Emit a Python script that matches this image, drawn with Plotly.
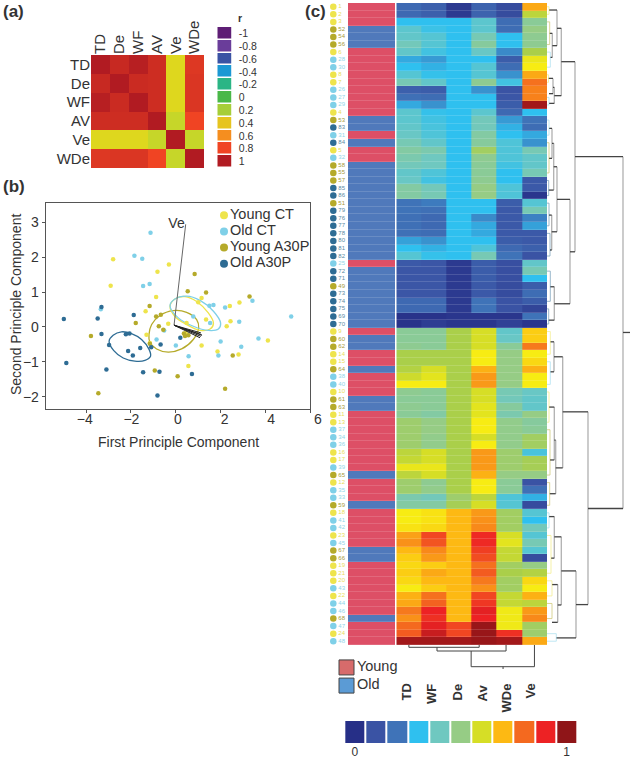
from plotly import graph_objects as go

W, H = 630, 758
FONT = "Liberation Sans"
INK = "#333333"

# Panel (a): correlation matrix
CORR_LABELS = ["TD", "De", "WF", "AV", "Ve", "WDe"]
CORR_TD = [1.0, 0.93, 0.98, 0.91, 0.32, 0.86]
CORR_DE = [0.93, 1.0, 0.92, 0.91, 0.32, 0.87]
CORR_WF = [0.98, 0.92, 1.0, 0.91, 0.32, 0.87]
CORR_AV = [0.91, 0.91, 0.91, 1.0, 0.26, 0.8]
CORR_VE = [0.32, 0.32, 0.32, 0.26, 1.0, 0.26]
CORR_WDE = [0.86, 0.87, 0.87, 0.8, 0.26, 1.0]
R_TICKS = [-1, -0.8, -0.6, -0.4, -0.2, 0, 0.2, 0.4, 0.6, 0.8, 1]
R_COLOURS = ["#5e1e75", "#6a3d9a", "#3a53a4", "#1b98d4", "#2bb585", "#4ab848",
             "#a6ce39", "#e6c41f", "#f58e1f", "#f04423", "#b11b22"]

# Panel (b): first / second principal component scores
YCT_X = [-2.79, -2.9, -0.81, -0.3, -0.87, -1.34, 1.16, 1.01, -0.33, 1.36, 0.49, -1.3,
         2.42, 2.85, 2.45, 2.28, 1.16, 1.87, 2.81, 0.57, 4.12, -1.15, 0.45]
YCT_Y = [1.94, 1.18, 1.58, 1.79, 0.86, 0.45, 0.83, 0.71, 0.09, 0.21, 0.11, -0.22,
         0.6, 0.7, 0.16, 0.02, -0.53, -0.7, -0.79, -1.12, -0.39, -0.46, -0.17]
OCT_X = [-1.12, -1.84, -1.49, -1.45, -1.16, -3.34, 0.79, 1.51, 1.69, 1.54, 2.21,
         2.84, 3.43, 5.16, 3.7, 2.93, 2.01, 1.91, 0.58, 0.01, -0.85, -0.51]
OCT_Y = [2.7, 2.04, 1.95, 1.17, 1.23, 0.51, 0.3, 0.61, 0.63, 0.11, 0.56,
         0.15, 0.75, 0.3, -0.33, -0.57, -0.42, -0.82, -0.84, -0.53, -0.36, -0.1]
YA_X = [0.85, 0.54, 1.36, 3.3, -1.16, -0.87, -0.66, -1.78, -0.75, -0.55, -3.78, -1.15,
        0.37, 0.42, 0.57, 2.55, -0.93, 0.09, -3.45, 2.21]
YA_Y = [1.52, 1.02, 0.99, 0.87, 0.6, 0.3, 0.35, 0.11, 0.02, -0.08, -0.26, -0.48,
        -0.19, -0.26, -0.24, -0.82, -1.25, -1.41, -1.9, -1.77]
OA_X = [-4.99, -4.88, -3.31, -3.48, -3.31, -1.87, -2.22, -2.06, -2.97, -2.12, -1.91,
        -1.58, -1.09, -0.67, 0.21, -3.09, -1.45, -0.72, 0.73, -0.81]
OA_Y = [0.23, -1.03, 0.57, 0.24, -0.2, 0.34, -0.21, -0.19, -0.52, -0.69, -0.82,
        -0.6, -0.58, -0.5, -0.31, -1.22, -1.3, -1.28, -1.35, -1.96]

# outlines of the group ellipses, read point by point
ELL_OA_X = [-2.97, -2.79, -2.42, -1.97, -1.52, -1.18, -1.12, -1.37, -1.82, -2.34, -2.76, -2.97]
ELL_OA_Y = [-0.41, -0.24, -0.14, -0.19, -0.36, -0.65, -0.84, -0.96, -0.98, -0.89, -0.68, -0.41]
ELL_YA_X = [-1.19, -1.07, -0.7, -0.1, 0.49, 0.94, 1.03, 0.79, 0.27, -0.33, -0.85, -1.15, -1.19]
ELL_YA_Y = [-0.22, 0.07, 0.33, 0.47, 0.42, 0.21, -0.03, -0.36, -0.63, -0.72, -0.63, -0.44, -0.22]
ELL_YCT_X = [-0.25, -0.03, 0.42, 0.94, 1.46, 1.69, 1.54, 1.09, 0.49, -0.03, -0.25]
ELL_YCT_Y = [0.59, 0.8, 0.87, 0.73, 0.4, 0.11, -0.06, -0.1, 0.07, 0.3, 0.59]
ELL_OCT_X = [-0.25, -0.03, 0.49, 1.09, 1.69, 2.01, 1.91, 1.46, 0.79, 0.12, -0.25]
ELL_OCT_Y = [0.61, 0.8, 0.88, 0.76, 0.45, 0.11, -0.06, -0.1, 0.02, 0.26, 0.61]

# loadings: Ve first, the other five bunch together
LOAD_X = [0.45, 1.16, 1.13, 1.13, 1.09, 1.18]
LOAD_Y = [2.94, -0.22, -0.17, -0.27, -0.31, -0.24]
GROUP_NAMES = ["Young CT", "Old CT", "Young A30P", "Old A30P"]
GROUP_COLOURS = ["#eee44c", "#7fd0e8", "#b5aa2a", "#2e6c94"]

# Panel (c): clustered heatmap, columns in display order
COLUMNS = ["TD", "WF", "De", "Av", "WDe", "Ve"]
ROW_LABELS = [1, 2, 3, 52, 54, 56, 6, 28, 30, 8, 7, 26, 27, 29, 4, 53, 83, 31, 84, 5, 32, 58,
              55, 57, 85, 86, 51, 79, 76, 77, 78, 80, 81, 82, 25, 72, 71, 49, 73, 74, 75, 69, 70, 9,
              60, 62, 14, 15, 64, 38, 40, 10, 61, 63, 11, 13, 37, 34, 36, 16, 17, 39, 65, 12, 35,
              33, 59, 18, 41, 42, 23, 45, 67, 66, 19, 21, 20, 43, 22, 44, 46, 68, 47, 24, 48]
HM_TD = [.17, .17, .3, .37, .38, .41, .38, .27, .3, .36, .42, .14, .19, .27, .37, .37, .38, .39, .42, .45, .43, .41,
         .38, .39, .45, .45, .2, .2, .19, .19, .19, .26, .3, .36, .12, .11, .11, .11, .11, .17, .17, .01, .01, .47,
         .47, .48, .55, .55, .56, .59, .65, .48, .47, .48, .47, .52, .52, .52, .52, .57, .58, .63, .57, .52, .52,
         .43, .45, .65, .65, .66, .73, .75, .7, .68, .67, .68, .67, .65, .71, .72, .78, .75, .8, .82, .98]
HM_WF = [.14, .14, .3, .32, .36, .36, .33, .25, .28, .31, .38, .13, .18, .24, .31, .33, .34, .35, .38, .43, .4, .4,
         .35, .33, .41, .42, .21, .19, .17, .17, .18, .24, .28, .31, .11, .11, .11, .11, .11, .17, .17, .01, .04, .47,
         .47, .47, .55, .55, .6, .62, .65, .47, .47, .47, .45, .5, .5, .49, .49, .6, .6, .63, .6, .48, .49,
         .41, .45, .66, .66, .67, .85, .83, .76, .74, .68, .72, .7, .68, .79, .81, .9, .88, .91, .94, .98]
HM_DE = [.03, .03, .3, .3, .3, .3, .3, .3, .3, .3, .3, .3, .3, .3, .3, .3, .3, .3, .3, .3, .3, .3,
         .3, .3, .3, .3, .3, .3, .3, .3, .3, .3, .3, .3, .03, .03, .03, .03, .03, .03, .03, .02, .02, .55,
         .55, .55, .55, .55, .55, .55, .55, .55, .55, .55, .55, .55, .55, .55, .55, .55, .55, .55, .55, .55, .55,
         .52, .54, .7, .7, .7, .7, .7, .7, .7, .7, .7, .7, .7, .7, .7, .7, .7, .85, .85, .98]
HM_AV = [.15, .15, .37, .37, .42, .46, .39, .3, .36, .36, .48, .24, .3, .3, .37, .41, .41, .45, .46, .53, .48, .47,
         .47, .48, .5, .5, .3, .3, .23, .27, .27, .3, .35, .42, .13, .13, .13, .12, .12, .2, .2, .02, .02, .6,
         .6, .6, .65, .65, .71, .74, .74, .6, .6, .62, .62, .65, .65, .6, .65, .74, .74, .74, .71, .65, .65,
         .57, .6, .74, .75, .76, .89, .89, .86, .84, .79, .82, .78, .75, .85, .87, .91, .9, .99, .99, .99]
HM_WDE = [.08, .08, .18, .18, .3, .3, .23, .13, .18, .24, .33, .1, .11, .13, .17, .25, .28, .3, .35, .35, .35, .33,
          .3, .3, .35, .35, .13, .12, .12, .12, .12, .13, .17, .2, .09, .09, .09, .08, .08, .1, .1, .02, .05, .38,
          .39, .47, .5, .5, .5, .5, .5, .42, .41, .46, .43, .49, .49, .49, .49, .52, .52, .52, .5, .47, .47,
          .35, .36, .53, .53, .53, .6, .62, .58, .58, .53, .55, .53, .53, .58, .58, .64, .64, .64, .88, .98]
HM_VE = [.72, .57, .47, .5, .48, .48, .55, .63, .65, .72, .79, .77, .77, .98, .3, .2, .18, .27, .24, .42, .38, .38,
         .42, .12, .12, .02, .36, .42, .22, .26, .12, .12, .14, .1, .38, .42, .3, .13, .18, .13, .06, .2, .02, .68,
         .68, .78, .65, .67, .71, .65, .65, .39, .38, .38, .5, .46, .47, .53, .53, .34, .54, .54, .5, .1, .19,
         .28, .08, .36, .3, .41, .36, .42, .36, .08, .5, .56, .67, .65, .71, .57, .74, .76, .53, .52, .72]
BAR_VALUES = [0, .1, .2, .3, .4, .5, .6, .7, .8, .9, 1]
BAR_TICKS = ["0", "1"]
AGE_NAMES = ["Young", "Old"]
AGE_COLOURS = ["#d76b6b", "#5b9bd5"]

# Row dendrogram merges: height, row of child 1, row of child 2, height of child 1, of child 2
ROW_TREE = [
    (76, 19.85, 66.43, 28, 41), (28, 7.27, 32.44, 14.3, 23), (14.3, 2.85, 11.77, 10, 7.3),
    (10, 0.43, 5.15, 2, 5.3), (5.3, 3.52, 6.7, 2.7, 3.3), (7.3, 10.67, 12.79, 6, 2),
    (6, 9.48, 11.5, 1.5, 2), (23, 25.5, 39.32, 10, 7.3), (10, 21.18, 29.79, 6.7, 4.7),
    (6.7, 18.08, 24.27, 5, 1.7), (5, 16.1, 20.07, 2, 2), (4.7, 27.58, 32.2, 2, 3),
    (7.3, 37.07, 41.49, 3.3, 1.7), (41, 53.63, 79.15, 15.7, 29), (15.7, 46.34, 61.05, 7, 8.7),
    (7, 44.36, 48.33, 3.3, 3.3), (8.7, 57.38, 64.47, 7.3, 2.7), (7.3, 53, 60, 2, 3),
    (29, 74.69, 83.56, 14.3, 9.3), (14.3, 70.18, 79.2, 7.3, 10.7), (7.3, 67.5, 73, 2, 4),
    (10.7, 76.5, 81.5, 5, 5),
]
ROW_LEAVES = [
    (2, 0, 1), (2.7, 2, 5), (3.3, 6, 8), (1.5, 9, 10), (2, 12, 13), (2, 15, 17), (2, 18, 22),
    (1.7, 23, 25), (2, 26, 29), (3, 30, 33), (3.3, 35, 39), (1.7, 40, 42), (3.3, 43, 46),
    (3.3, 47, 50), (2, 51, 55), (3, 56, 62), (2.7, 63, 66), (2, 67, 69), (4, 70, 75),
    (5, 76, 78), (5, 79, 81), (9.3, 83, 84),
]
ROW_STEM = (43.12, 76, 83)
# Column dendrogram merges, same layout, columns counted from TD = 0
COL_TREE = [(2.3, 0, 2.8, 0, 0), (6, 1.12, 3.87, 2.3, 0), (21.7, 2.48, 5, 6, 0)]
COL_STEM = (3.75, 21.7, 24)

HEAT_SCALE = [
    [0, "#262f87"], [.1, "#3a53a4"], [.2, "#3f73b8"], [.3, "#2fc0ef"], [.4, "#6fc8c0"],
    [.5, "#96cc85"], [.55, "#aacf4a"], [.6, "#d6de26"], [.65, "#f7ec13"], [.7, "#fdb913"],
    [.8, "#f4691f"], [.9, "#ed2224"], [1, "#8f1518"],
]
R_SCALE = [[i / 10, c] for i, c in enumerate(R_COLOURS)] + [[0.65, "#dcdc1e"]]
R_SCALE.sort(key=lambda stop: stop[0])


def dom_x(x0, x1):
    return [x0 / W, x1 / W]


def dom_y(y0, y1):
    return [1 - y1 / H, 1 - y0 / H]


def hidden(**kw):
    return dict(visible=False, fixedrange=True, **kw)


def note(text, x, y, size=14, **kw):
    kw.setdefault("xanchor", "center")
    kw.setdefault("yanchor", "middle")
    return dict(text=text, x=x / W, y=1 - y / H, xref="paper", yref="paper", showarrow=False,
                font=dict(family=FONT, size=size, color=INK), **kw)


def group_of(label):
    # 49 is drawn in the source with the Young A30P colour
    if label == 49:
        return 2
    if label <= 24:
        return 0
    if label <= 50:
        return 1
    if label <= 68:
        return 2
    return 3


def tree_lines(merges):
    bars, stems = ([], []), ([], [])
    for h, a, b, ha, hb in merges:
        bars[0].extend([h, h, None])
        bars[1].extend([a, b, None])
        stems[0].extend([ha, h, None, hb, h, None])
        stems[1].extend([a, a, None, b, b, None])
    return bars, stems


fig = go.Figure()

# (a)
fig.add_trace(go.Heatmap(
    z=[CORR_TD, CORR_DE, CORR_WF, CORR_AV, CORR_VE, CORR_WDE], x=CORR_LABELS, y=CORR_LABELS,
    zmin=-1, zmax=1, colorscale=R_SCALE, showscale=False, xaxis="x", yaxis="y",
))
fig.add_trace(go.Heatmap(
    z=[[r] for r in R_TICKS], y=[str(r) for r in R_TICKS], zmin=-1, zmax=1, colorscale=R_SCALE,
    showscale=False, ygap=1.5, xaxis="x2", yaxis="y2",
))

# (b)
for xs, ys, col in [(ELL_YA_X, ELL_YA_Y, GROUP_COLOURS[2]), (ELL_OA_X, ELL_OA_Y, GROUP_COLOURS[3]),
                    (ELL_YCT_X, ELL_YCT_Y, GROUP_COLOURS[0]), (ELL_OCT_X, ELL_OCT_Y, GROUP_COLOURS[1])]:
    fig.add_trace(go.Scatter(x=xs, y=ys, mode="lines", line=dict(color=col, width=1.3, shape="spline"),
                             xaxis="x3", yaxis="y3", showlegend=False))
for i, (xs, ys) in enumerate([(YCT_X, YCT_Y), (OCT_X, OCT_Y), (YA_X, YA_Y), (OA_X, OA_Y)]):
    fig.add_trace(go.Scatter(x=xs, y=ys, mode="markers", marker=dict(color=GROUP_COLOURS[i], size=4.5),
                             xaxis="x3", yaxis="y3", showlegend=False))
for k, (lx, ly) in enumerate(zip(LOAD_X, LOAD_Y)):
    fig.add_trace(go.Scatter(x=[-0.07, lx], y=[0.05, ly], mode="lines",
                             line=dict(color="#666666" if k == 0 else "#222222", width=1),
                             xaxis="x3", yaxis="y3", showlegend=False))
fig.add_trace(go.Scatter(x=[0.04], y=[2.94], mode="text", text=["Ve"],
                         textfont=dict(family=FONT, size=14, color=INK), xaxis="x3", yaxis="y3", showlegend=False))
# empty trace so the tick-number axis of (b) gets drawn
fig.add_trace(go.Scatter(x=[0], y=[0], mode="markers", marker=dict(opacity=0), xaxis="x4", yaxis="y3",
                         showlegend=False, hoverinfo="skip"))
fig.add_trace(go.Scatter(
    x=[0, 0, 0, 0], y=GROUP_NAMES, mode="markers+text", text=GROUP_NAMES, textposition="middle right",
    marker=dict(color=GROUP_COLOURS, size=8), textfont=dict(family=FONT, size=14.5, color=INK),
    cliponaxis=False, xaxis="x11", yaxis="y11", showlegend=False,
))

# (c)
fig.add_trace(go.Heatmap(
    z=[[0 if group_of(lab) < 2 else 1] for lab in ROW_LABELS], zmin=0, zmax=1,
    colorscale=[[0, "#dd4f66"], [1, "#5079bb"]], showscale=False, ygap=0.15, xaxis="x5", yaxis="y5",
))
fig.add_trace(go.Heatmap(
    z=[list(r) for r in zip(HM_TD, HM_WF, HM_DE, HM_AV, HM_WDE, HM_VE)], zmin=0, zmax=1,
    colorscale=HEAT_SCALE, showscale=False, ygap=0.15, xaxis="x6", yaxis="y5",
))
fig.add_trace(go.Scatter(
    x=[0] * len(ROW_LABELS), y=list(range(len(ROW_LABELS))), mode="markers+text",
    text=[str(v) for v in ROW_LABELS], textposition="middle right",
    marker=dict(color=[GROUP_COLOURS[group_of(v)] for v in ROW_LABELS], size=6.5),
    textfont=dict(family=FONT, size=6, color=[["#e9dc5a", "#8fd5ea", "#a59a3a", "#5a8ca5"][group_of(v)] for v in ROW_LABELS]),
    cliponaxis=False, xaxis="x7", yaxis="y5", showlegend=False,
))
# row tree: crossbars run along the rows
bars, stems = tree_lines(ROW_TREE)
fig.add_trace(go.Scatter(x=bars[0], y=bars[1], mode="lines", line=dict(color="#b0b0b0", width=1.3),
                         xaxis="x8", yaxis="y5", showlegend=False))
fig.add_trace(go.Scatter(x=stems[0] + [ROW_STEM[1], ROW_STEM[2]], y=stems[1] + [ROW_STEM[0], ROW_STEM[0]],
                         mode="lines", line=dict(color="#444444", width=1.3),
                         xaxis="x8", yaxis="y5", showlegend=False))
for h, a, b in ROW_LEAVES:
    lab = ROW_LABELS[b]
    fig.add_trace(go.Scatter(x=[0, h, h, 0], y=[a, a, b, b], mode="lines", opacity=0.6,
                             line=dict(color=GROUP_COLOURS[group_of(lab)], width=0.8),
                             xaxis="x8", yaxis="y5", showlegend=False))
# column tree: same merges with the axes swapped
ct_bars, ct_stems = tree_lines(COL_TREE)
fig.add_trace(go.Scatter(x=ct_bars[1] + ct_stems[1], y=ct_bars[0] + ct_stems[0], mode="lines",
                         line=dict(color="#444444", width=1), xaxis="x9", yaxis="y9", showlegend=False))
fig.add_trace(go.Scatter(x=[COL_STEM[0], COL_STEM[0]], y=[COL_STEM[1], COL_STEM[2]], mode="lines",
                         line=dict(color="#444444", width=1), xaxis="x9", yaxis="y9", showlegend=False))
fig.add_trace(go.Heatmap(
    z=[BAR_VALUES], zmin=0, zmax=1, colorscale=HEAT_SCALE, showscale=False, xgap=2, xaxis="x10", yaxis="y10",
))
fig.add_trace(go.Scatter(
    x=[0, 0], y=AGE_NAMES, mode="markers+text", text=AGE_NAMES, textposition="middle right",
    marker=dict(color=AGE_COLOURS, size=15, symbol="square", line=dict(color="#444444", width=1)),
    textfont=dict(family=FONT, size=14.5, color=INK), cliponaxis=False, xaxis="x12", yaxis="y12", showlegend=False,
))

notes = [
    note("<b>(a)</b>", 1, 11, size=17, xanchor="left"),
    note("<b>(b)</b>", 1, 186, size=17, xanchor="left"),
    note("<b>(c)</b>", 303, 11, size=17, xanchor="left"),
    note("<b>r</b>", 236, 18, size=10.5, xanchor="left"),
    note("First Principle Component", 178, 441.5, size=14),
    note("Second Principle Component", 16, 305, size=14, textangle=-90),
]
for name, px in zip(COLUMNS, [406, 431, 457, 482, 506, 530]):
    notes.append(note(f"<b>{name}</b>", px, 682, size=13, textangle=-90, yanchor="top"))

fig.update_layout(
    width=W, height=H, autosize=False, margin=dict(l=0, r=0, t=0, b=0, pad=0),
    paper_bgcolor="white", plot_bgcolor="rgba(0,0,0,0)", showlegend=False,
    font=dict(family=FONT, color=INK), annotations=notes,
    xaxis=dict(domain=dom_x(91, 204), side="top", tickangle=-90, tickfont=dict(size=15), ticks="",
               showgrid=False, zeroline=False, anchor="y"),
    yaxis=dict(domain=dom_y(55, 168), autorange="reversed", tickfont=dict(size=15), ticks="",
               showgrid=False, zeroline=False, anchor="x"),
    xaxis2=hidden(domain=dom_x(217.3, 231.7), anchor="y2"),
    yaxis2=dict(domain=dom_y(27, 168), autorange="reversed", side="right", anchor="x2", ticks="outside",
                tickmode="array", tickvals=[str(r) for r in R_TICKS], ticktext=[str(r) for r in R_TICKS],
                ticklen=4, tickcolor="rgba(0,0,0,0)", tickfont=dict(size=10.5), showgrid=False, zeroline=False),
    xaxis3=dict(domain=dom_x(45.7, 310), range=[-5.8, 6], anchor="y3", tickvals=[-4, -2, 0, 2, 4, 6],
                showticklabels=False, ticks="outside", ticklen=3, tickcolor="#555555", showline=True,
                linecolor="#555555", mirror=True, showgrid=False, zeroline=False),
    yaxis3=dict(domain=dom_y(203, 409), range=[-2.35, 3.55], anchor="x3", tickvals=[-2, -1, 0, 1, 2, 3],
                ticks="outside", ticklen=3, tickcolor="#555555", tickfont=dict(size=14), showline=True,
                linecolor="#555555", mirror=True, showgrid=False, zeroline=False),
    # the tick numbers of (b) sit on their own slightly wider scale, as in the source figure
    xaxis4=dict(domain=dom_x(45.7, 325), range=[-5.68, 6.31], anchor="y3", tickvals=[-4, -2, 0, 2, 4, 6],
                ticks="", tickfont=dict(size=14), showgrid=False, zeroline=False, showline=False),
    xaxis11=hidden(domain=dom_x(224, 320), range=[0, 96], anchor="y11"),
    yaxis11=hidden(domain=dom_y(207, 272), autorange="reversed", anchor="x11"),
    xaxis5=hidden(domain=dom_x(348, 395.3), anchor="y5"),
    yaxis5=hidden(domain=dom_y(3, 645), range=[84.5, -0.5], anchor="x5"),
    xaxis6=hidden(domain=dom_x(396.3, 547), range=[-0.5, 5.5], anchor="y5"),
    xaxis7=hidden(domain=dom_x(333.3, 348), range=[0, 14.7], anchor="y5"),
    xaxis8=hidden(domain=dom_x(547, 630), range=[0, 83], anchor="y5"),
    xaxis9=hidden(domain=dom_x(396.3, 547), range=[-0.5, 5.5], anchor="y9"),
    yaxis9=hidden(domain=dom_y(645, 669), range=[24, 0], anchor="x9"),
    xaxis10=dict(domain=dom_x(344.3, 577.3), range=[-0.5, 10.5], anchor="y10", tickvals=[0, 10], ticktext=BAR_TICKS,
                 ticks="", tickfont=dict(size=12), showgrid=False, zeroline=False),
    yaxis10=hidden(domain=dom_y(721, 743.3), anchor="x10"),
    xaxis12=hidden(domain=dom_x(346.5, 440), range=[0, 93.5], anchor="y12"),
    yaxis12=hidden(domain=dom_y(656, 697), autorange="reversed", anchor="x12"),
)

fig.write_html("out.html", config={"displayModeBar": False}, post_script="document.body.style.margin='0';")
